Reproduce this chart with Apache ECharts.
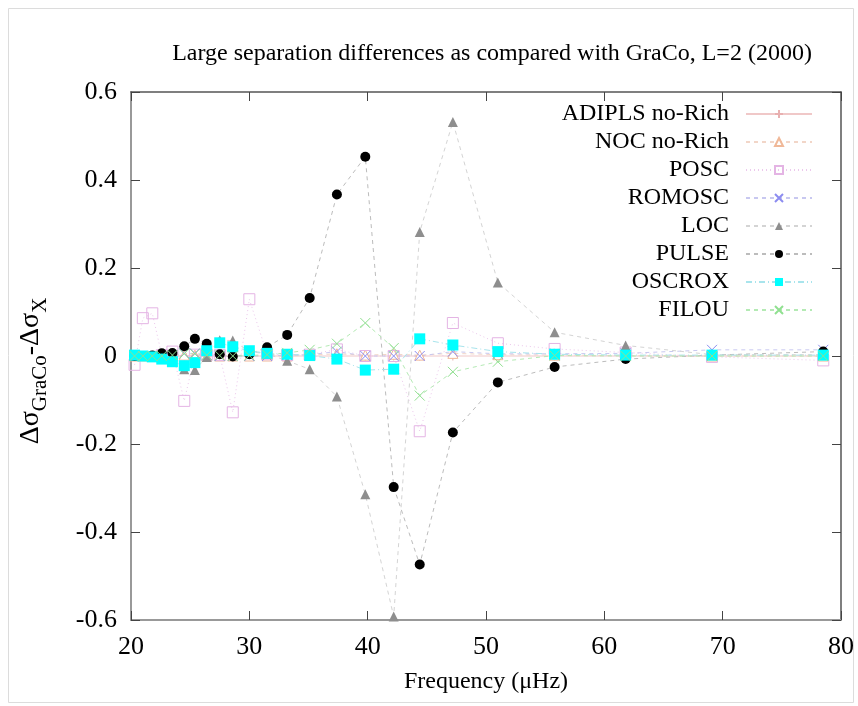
<!DOCTYPE html>
<html>
<head>
<meta charset="utf-8">
<script src="https://cdn.jsdelivr.net/npm/echarts@6/dist/echarts.min.js"></script>
<style>html,body{margin:0;padding:0;background:#fff}#c{width:858px;height:706px}</style>
</head>
<body>
<div id="c"></div>
<script>
// Frequencies (µHz) of the L=2 modes
const freqs = [20.3, 21.0, 21.8, 22.6, 23.5, 24.5, 25.4, 26.4, 27.5, 28.6, 30.0, 31.5, 33.2, 35.1, 37.4, 39.8, 42.2, 44.4, 47.2, 51.0, 55.8, 61.8, 69.1, 78.5];
const adipls = [0.000, 0.000, 0.000, 0.000, 0.000, 0.000, 0.000, 0.000, 0.000, 0.000, 0.000, 0.000, 0.000, 0.000, 0.000, 0.000, 0.000, 0.000, 0.000, 0.000, 0.000, 0.000, 0.000, 0.000];
const noc    = [0.000, 0.000, 0.000, 0.000, 0.000, 0.002, 0.002, 0.000, 0.000, 0.000, 0.000, 0.000, 0.000, 0.002, 0.005, 0.002, 0.004, 0.002, 0.006, 0.003, 0.002, 0.001, 0.000, 0.000];
const posc   = [-0.020, 0.086, 0.097, 0.002, 0.010, -0.102, 0.003, 0.003, 0.002, -0.128, 0.129, 0.004, 0.002, 0.003, 0.015, 0.000, 0.000, -0.171, 0.075, 0.029, 0.016, 0.008, -0.002, -0.010];
const romosc = [0.000, 0.000, 0.000, 0.000, 0.002, 0.006, 0.006, 0.002, 0.000, 0.000, 0.000, 0.000, 0.002, 0.003, 0.010, 0.000, 0.000, 0.000, 0.010, 0.005, 0.005, 0.006, 0.014, 0.014];
const loc    = [0.000, 0.000, 0.000, 0.000, -0.002, -0.030, -0.032, -0.002, 0.036, 0.035, 0.010, 0.005, -0.011, -0.030, -0.092, -0.314, -0.592, 0.282, 0.532, 0.167, 0.054, 0.024, 0.003, 0.003];
const pulse  = [0.000, 0.000, 0.001, 0.006, 0.007, 0.022, 0.039, 0.028, 0.004, -0.001, 0.004, 0.020, 0.048, 0.132, 0.367, 0.453, -0.298, -0.474, -0.174, -0.060, -0.025, -0.007, 0.002, 0.010];
const oscrox = [0.002, 0.000, -0.002, -0.007, -0.013, -0.022, -0.015, 0.012, 0.030, 0.021, 0.012, 0.006, 0.004, 0.001, -0.007, -0.032, -0.030, 0.039, 0.025, 0.010, 0.004, 0.002, 0.002, 0.002];
const filou  = [0.000, 0.000, 0.000, 0.000, 0.002, 0.005, 0.005, 0.002, 0.001, 0.000, 0.001, 0.003, 0.007, 0.014, 0.028, 0.075, 0.018, -0.090, -0.036, -0.013, 0.001, 0.000, 0.000, 0.000];

const FONT = '"Liberation Serif", "DejaVu Serif", serif';
const PLUS = 'path://M5,0L5,10M0,5L10,5';
const CROSS = 'path://M0,0L10,10M10,0L0,10';

function pairs(ys){ return freqs.map((f,i)=>[f, ys[i]]); }
function mk(name, ys, o){
  return {
    name, type:'line', data: pairs(ys), symbol:o.symbol, symbolSize:o.size,
    showSymbol:true,
    lineStyle:{color:o.line, width:1, type:o.dash},
    itemStyle:{color:o.fill, borderColor:o.stroke, borderWidth:o.bw},
    emphasis:{disabled:true}, animation:false
  };
}
const series = [
  mk('ADIPLS no-Rich', adipls, {symbol:PLUS, size:9, line:'#f0c8c8', dash:'solid', fill:'transparent', stroke:'#e8b0b0', bw:1}),
  mk('NOC no-Rich', noc, {symbol:'triangle', size:10, line:'#f2d6c8', dash:[4,4], fill:'#fff', stroke:'#f0b898', bw:1}),
  mk('POSC', posc, {symbol:'rect', size:11, line:'#ecc8ec', dash:[1,3], fill:'rgba(255,255,255,0)', stroke:'#e4b4e4', bw:1}),
  mk('ROMOSC', romosc, {symbol:CROSS, size:10, line:'#c8c8f0', dash:[4,4], fill:'transparent', stroke:'#8c8cf0', bw:1}),
  mk('LOC', loc, {symbol:'triangle', size:10, line:'#d4d4d4', dash:[4,4], fill:'#8e8e8e', stroke:'#8e8e8e', bw:0}),
  mk('PULSE', pulse, {symbol:'circle', size:10, line:'#bcbcbc', dash:[4,4], fill:'#000', stroke:'#000', bw:0}),
  mk('OSCROX', oscrox, {symbol:'rect', size:11, line:'#a8e4ec', dash:[6,3,1,3], fill:'#00ffff', stroke:'#00ffff', bw:0}),
  mk('FILOU', filou, {symbol:CROSS, size:10, line:'#b4eab4', dash:[4,4], fill:'transparent', stroke:'#90e090', bw:1})
];

const chart = echarts.init(document.getElementById('c'), null, {renderer:'canvas'});
chart.setOption({
  backgroundColor:'#fff',
  animation:false,
  title:{
    text:'Large separation differences as compared with GraCo, L=2 (2000)',
    left:487, top:37, textAlign:'center',
    textStyle:{fontFamily:FONT, fontSize:24, fontWeight:'normal', color:'#000'}
  },
  graphic:[{type:'rect', shape:{x:8.5, y:8.5, width:845, height:694}, style:{fill:'none', stroke:'#dcdcdc', lineWidth:1}, silent:true}],
  legend:{
    orient:'vertical', right:40, top:97, align:'right',
    itemWidth:66, itemHeight:10, itemGap:4,
    textStyle:{fontFamily:FONT, fontSize:24, color:'#000', padding:[0,12,0,0]},
    data: series.map(s=>s.name)
  },
  grid:{left:131, right:17, top:92, bottom:86},
  xAxis:[{
    type:'value', min:20, max:80, interval:10,
    name:'Frequency (μHz)', nameLocation:'middle', nameGap:50,
    nameTextStyle:{fontFamily:FONT, fontSize:24, color:'#000'},
    axisLine:{show:true, onZero:false, lineStyle:{color:'#999', width:2}},
    axisTick:{show:true, inside:true, length:9, lineStyle:{color:'#444'}},
    axisLabel:{fontFamily:FONT, fontSize:26, color:'#000', margin:14},
    splitLine:{show:false}
  },{
    type:'value', position:'top', min:20, max:80, interval:10,
    axisLine:{show:true, onZero:false, lineStyle:{color:'#555', width:1.5}},
    axisTick:{show:true, inside:true, length:9, lineStyle:{color:'#444'}},
    axisLabel:{show:false}, splitLine:{show:false}
  }],
  yAxis:[{
    type:'value', min:-0.6, max:0.6, interval:0.2,
    name:'{a|Δσ}{s|GraCo}{a|-Δσ}{s|X}', nameLocation:'middle', nameRotate:90, nameGap:80,
    nameTextStyle:{fontFamily:FONT, color:'#000', padding:[0,30,0,0],
      rich:{a:{fontFamily:FONT, fontSize:28, color:'#000', lineHeight:34, verticalAlign:'top'},
            s:{fontFamily:FONT, fontSize:21, color:'#000', lineHeight:34, verticalAlign:'bottom', padding:[10,0,0,0]}}},
    axisLine:{show:true, onZero:false, lineStyle:{color:'#999', width:2}},
    axisTick:{show:true, inside:true, length:9, lineStyle:{color:'#444'}},
    axisLabel:{fontFamily:FONT, fontSize:26, color:'#000', margin:14,
      formatter:v=>String(Math.round(v*10)/10)},
    splitLine:{show:false}
  },{
    type:'value', position:'right', min:-0.6, max:0.6, interval:0.2,
    axisLine:{show:true, onZero:false, lineStyle:{color:'#555', width:1.5}},
    axisTick:{show:true, inside:true, length:9, lineStyle:{color:'#444'}},
    axisLabel:{show:false}, splitLine:{show:false}
  }],
  series
});
</script>
</body>
</html>
